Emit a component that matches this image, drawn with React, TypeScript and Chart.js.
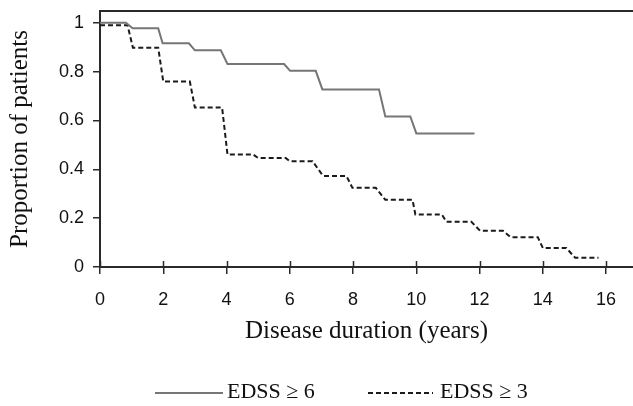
import React, { useEffect, useRef } from 'react';
import { Chart, registerables } from 'chart.js';

Chart.register(...registerables);

// ---- data ----
const edss6X = [0, 0.82, 1.03, 1.84, 1.98, 2.81, 3.0, 3.82, 4.03, 5.82, 6.01, 6.82, 7.03, 8.82, 9.02, 9.81, 10.0, 11.84];
const edss6Y = [1, 1, 0.977, 0.977, 0.916, 0.916, 0.887, 0.887, 0.831, 0.831, 0.803, 0.803, 0.727, 0.727, 0.616, 0.616, 0.547, 0.547];

const edss3X = [0, 0.87, 1.04, 1.84, 2.0, 2.84, 3.0, 3.86, 4.03, 4.84, 5.0, 5.87, 6.0, 6.72, 7.05, 7.79, 7.98, 8.72, 9.02, 9.88, 9.97, 10.81, 10.95, 11.74, 12.02, 12.74, 12.98, 13.84, 14.0, 14.74, 15.02, 15.76];
const edss3Y = [0.99, 0.99, 0.898, 0.898, 0.759, 0.759, 0.653, 0.653, 0.461, 0.461, 0.446, 0.446, 0.433, 0.433, 0.373, 0.373, 0.324, 0.324, 0.275, 0.275, 0.215, 0.215, 0.185, 0.185, 0.148, 0.148, 0.122, 0.122, 0.078, 0.078, 0.038, 0.038];

const xTickValues = [0, 2, 4, 6, 8, 10, 12, 14, 16];
const yTickValues = [0, 0.2, 0.4, 0.6, 0.8, 1];
const yTickLabels = ['0', '0.2', '0.4', '0.6', '0.8', '1'];

const seriesLabels = ['EDSS \u2265 6', 'EDSS \u2265 3'];
const xTitle = 'Disease duration (years)';
const yTitle = 'Proportion of patients';

// ---- styling ----
const SERIF = '"Liberation Serif", "Times New Roman", serif';
const SANS = '"Liberation Sans", Arial, sans-serif';
const AXIS_COLOR = '#2a2a2a';
const TEXT_COLOR = '#111111';
const LEGEND_Y = 392;
const LEGEND_ITEMS = [
  { x0: 155, x1: 223, tx: 227 },
  { x0: 368, x1: 433, tx: 440 },
];

const extrasPlugin = {
  id: 'kmExtras',
  afterDraw(chart: any) {
    const { ctx, chartArea } = chart;
    const xs = chart.scales.x;
    ctx.save();
    // top frame line
    ctx.strokeStyle = AXIS_COLOR;
    ctx.lineWidth = 2;
    ctx.beginPath();
    ctx.moveTo(chartArea.left, chartArea.top);
    ctx.lineTo(chartArea.right, chartArea.top);
    ctx.stroke();
    // inward half of crossing x ticks
    ctx.lineWidth = 1.5;
    xs.ticks.forEach((t: any) => {
      const px = Math.round(xs.getPixelForValue(t.value)) + 0.5;
      ctx.beginPath();
      ctx.moveTo(px, chartArea.bottom - 6);
      ctx.lineTo(px, chartArea.bottom);
      ctx.stroke();
    });
    // legend
    chart.data.datasets.forEach((ds: any, i: number) => {
      const it = LEGEND_ITEMS[i];
      ctx.strokeStyle = ds.borderColor;
      ctx.lineWidth = ds.borderWidth;
      ctx.setLineDash(ds.borderDash || []);
      ctx.beginPath();
      ctx.moveTo(it.x0, LEGEND_Y + 1);
      ctx.lineTo(it.x1, LEGEND_Y + 1);
      ctx.stroke();
      ctx.setLineDash([]);
      ctx.fillStyle = TEXT_COLOR;
      ctx.font = `22px ${SERIF}`;
      ctx.textBaseline = 'middle';
      ctx.textAlign = 'left';
      ctx.fillText(ds.label, it.tx, LEGEND_Y);
    });
    ctx.restore();
  },
};

export default function App() {
  const ref = useRef<HTMLCanvasElement | null>(null);

  useEffect(() => {
    if (!ref.current) return;
    const chart = new Chart(ref.current, {
      type: 'line',
      data: {
        datasets: [
          {
            label: seriesLabels[0],
            data: edss6X.map((x, i) => ({ x, y: edss6Y[i] })),
            borderColor: '#767676',
            borderWidth: 2,
            pointRadius: 0,
            tension: 0,
            fill: false,
          },
          {
            label: seriesLabels[1],
            data: edss3X.map((x, i) => ({ x, y: edss3Y[i] })),
            borderColor: '#1a1a1a',
            borderWidth: 2,
            borderDash: [5, 3],
            pointRadius: 0,
            tension: 0,
            fill: false,
          },
        ],
      },
      options: {
        animation: false,
        responsive: false,
        maintainAspectRatio: false,
        layout: { padding: { top: 11, right: 0, bottom: 40, left: 0 } },
        plugins: {
          legend: { display: false },
          tooltip: { enabled: false },
        },
        scales: {
          x: {
            type: 'linear',
            min: 0,
            max: 16.85,
            afterBuildTicks: (s: any) => {
              s.ticks = xTickValues.map((v) => ({ value: v }));
            },
            afterFit: (s: any) => {
              s.height = 99;
            },
            ticks: {
              color: TEXT_COLOR,
              font: { family: SANS, size: 18 },
              padding: 15,
              maxRotation: 0,
              callback: (v: any) => String(v),
            },
            grid: {
              drawOnChartArea: false,
              drawTicks: true,
              tickLength: 7,
              color: AXIS_COLOR,
              lineWidth: 1.5,
            },
            border: { display: true, color: AXIS_COLOR, width: 2 },
            title: {
              display: true,
              text: xTitle,
              color: TEXT_COLOR,
              font: { family: SERIF, size: 25 },
              padding: { top: 0, bottom: 20 },
            },
          },
          y: {
            type: 'linear',
            min: 0,
            max: 1.048,
            afterBuildTicks: (s: any) => {
              s.ticks = yTickValues.map((v) => ({ value: v }));
            },
            afterFit: (s: any) => {
              s.width = 100;
              s.paddingTop = 0;
              s.paddingBottom = 0;
            },
            ticks: {
              color: TEXT_COLOR,
              font: { family: SANS, size: 18 },
              padding: 9,
              callback: (v: any) => {
                const i = yTickValues.findIndex((t) => Math.abs(t - v) < 1e-6);
                return i >= 0 ? yTickLabels[i] : '';
              },
            },
            grid: {
              drawOnChartArea: false,
              drawTicks: true,
              tickLength: 7,
              color: AXIS_COLOR,
              lineWidth: 1.5,
            },
            border: { display: true, color: AXIS_COLOR, width: 2 },
            title: {
              display: true,
              text: yTitle,
              color: TEXT_COLOR,
              font: { family: SERIF, size: 25 },
              padding: { top: 5, bottom: 0 },
            },
          },
        },
      },
      plugins: [extrasPlugin],
    });
    return () => chart.destroy();
  }, []);

  return (
    <div style={{ position: 'fixed', left: 0, top: 0, width: 633, height: 406, background: '#fff' }}>
      <canvas ref={ref} width={633} height={406} style={{ display: 'block', width: 633, height: 406 }} />
    </div>
  );
}
